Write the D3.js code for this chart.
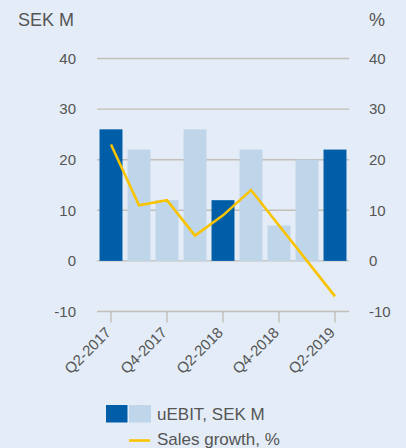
<!DOCTYPE html>
<html>
<head>
<meta charset="utf-8">
<script src="https://cdn.jsdelivr.net/npm/d3@7"></script>
<style>
  html, body { margin: 0; padding: 0; background: #e4edf7; }
  svg { display: block; font-family: "Liberation Sans", Arial, sans-serif; }
</style>
</head>
<body>
<div id="chart"></div>
<script>
// data
const quarters = ["Q2-2017", "Q3-2017", "Q4-2017", "Q1-2018", "Q2-2018",
                  "Q3-2018", "Q4-2018", "Q1-2019", "Q2-2019"];
const uebit = [26, 22, 12, 26, 12, 22, 7, 20, 22];
const salesGrowth = [23, 11, 12, 5, 9, 14, 7, 0, -7];
const highlighted = ["Q2-2017", "Q2-2018", "Q2-2019"];
const tickLabels = ["Q2-2017", "Q4-2017", "Q2-2018", "Q4-2018", "Q2-2019"];
const yTicks = [-10, 0, 10, 20, 30, 40];

const W = 406, H = 448;
const plotLeft = 97, plotRight = 349, plotTop = 58.5, plotBottom = 311.5;

const darkBlue = "#005ea8", lightBlue = "#bfd6ea", yellow = "#f9c300";
const gridColor = "#c2beb8", textColor = "#555";

const svg = d3.select("#chart").append("svg")
    .attr("width", W)
    .attr("height", H);

svg.append("rect").attr("width", W).attr("height", H).attr("fill", "#e4edf7");

const x = d3.scaleBand()
    .domain(quarters)
    .range([plotLeft, plotRight])
    .paddingInner(0.18)
    .paddingOuter(0.09);

// both axes share the same range -10..40
const yL = d3.scaleLinear().domain([-10, 40]).range([plotBottom, plotTop]);
const yR = d3.scaleLinear().domain([-10, 40]).range([plotBottom, plotTop]);

// gridlines
svg.append("g")
    .selectAll("line")
    .data(yTicks)
    .join("line")
    .attr("x1", plotLeft)
    .attr("x2", plotRight)
    .attr("y1", d => yL(d))
    .attr("y2", d => yL(d))
    .attr("stroke", gridColor)
    .attr("stroke-width", 1.4);

// left tick labels
svg.append("g")
    .selectAll("text")
    .data(yTicks)
    .join("text")
    .attr("x", 76)
    .attr("y", d => yL(d))
    .attr("dy", "0.35em")
    .attr("text-anchor", "end")
    .style("font-size", "15px")
    .style("fill", textColor)
    .text(d => d);

// right tick labels
svg.append("g")
    .selectAll("text")
    .data(yTicks)
    .join("text")
    .attr("x", 369)
    .attr("y", d => yR(d))
    .attr("dy", "0.35em")
    .attr("text-anchor", "start")
    .style("font-size", "15px")
    .style("fill", textColor)
    .text(d => d);

// unit labels
svg.append("text")
    .attr("x", 18).attr("y", 26)
    .style("font-size", "18px").style("fill", textColor)
    .text("SEK M");
svg.append("text")
    .attr("x", 369).attr("y", 26)
    .style("font-size", "18px").style("fill", textColor)
    .text("%");

// bars
svg.append("g")
    .selectAll("rect")
    .data(quarters)
    .join("rect")
    .attr("x", d => x(d))
    .attr("width", x.bandwidth())
    .attr("y", (d, i) => yL(Math.max(0, uebit[i])))
    .attr("height", (d, i) => Math.abs(yL(uebit[i]) - yL(0)))
    .attr("fill", d => highlighted.includes(d) ? darkBlue : lightBlue);

// x ticks + labels
const xt = svg.append("g");
xt.selectAll("line")
    .data(tickLabels)
    .join("line")
    .attr("x1", d => x(d) + x.bandwidth() / 2)
    .attr("x2", d => x(d) + x.bandwidth() / 2)
    .attr("y1", plotBottom)
    .attr("y2", plotBottom + 11)
    .attr("stroke", gridColor)
    .attr("stroke-width", 1.4);
xt.selectAll("text")
    .data(tickLabels)
    .join("text")
    .attr("transform", d => `translate(${x(d) + x.bandwidth() / 2 + 1},${plotBottom + 22}) rotate(-45)`)
    .attr("text-anchor", "end")
    .style("font-size", "15px")
    .style("fill", textColor)
    .text(d => d);

// sales growth line
const line = d3.line()
    .x((d, i) => x(quarters[i]) + x.bandwidth() / 2)
    .y(d => yR(d));
svg.append("path")
    .datum(salesGrowth)
    .attr("d", line)
    .attr("fill", "none")
    .attr("stroke", yellow)
    .attr("stroke-width", 2.6)
    .attr("stroke-linejoin", "miter");

// legend
const legend = svg.append("g");
legend.append("rect").attr("x", 106).attr("y", 405).attr("width", 21.5).attr("height", 17.5).attr("fill", darkBlue);
legend.append("rect").attr("x", 129).attr("y", 405).attr("width", 22).attr("height", 17.5).attr("fill", lightBlue);
legend.append("text")
    .attr("x", 157).attr("y", 420)
    .style("font-size", "17px").style("fill", textColor)
    .text("uEBIT, SEK M");
legend.append("line")
    .attr("x1", 129).attr("x2", 150)
    .attr("y1", 440.5).attr("y2", 440.5)
    .attr("stroke", yellow).attr("stroke-width", 2.6);
legend.append("text")
    .attr("x", 157).attr("y", 445)
    .style("font-size", "17px").style("fill", textColor)
    .text("Sales growth, %");
</script>
</body>
</html>
